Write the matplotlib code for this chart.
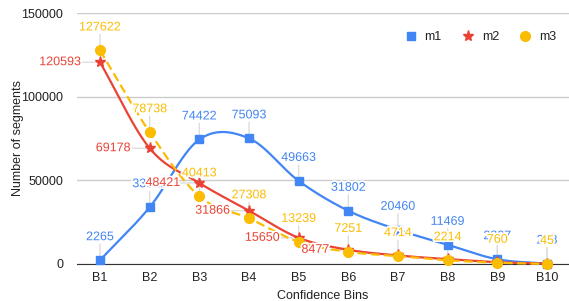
import numpy as np
import matplotlib.pyplot as plt
import matplotlib.patheffects as pe
from matplotlib.lines import Line2D

plt.rcParams['font.family'] = ['Liberation Sans', 'DejaVu Sans']

bins = ['B1', 'B2', 'B3', 'B4', 'B5', 'B6', 'B7', 'B8', 'B9', 'B10']
m1 = [2265, 33923, 74422, 75093, 49663, 31802, 20460, 11469, 2827, 248]
m2 = [120593, 69178, 48421, 31866, 15650, 8477, 5100, 2900, 1100, 200]
m3 = [127622, 78738, 40413, 27308, 13239, 7251, 4714, 2214, 760, 45]
m2_labelled = 6  # google hid the colliding red labels after B6

blue, red, yellow = '#4285F4', '#EA4335', '#FBBC04'


def smooth(y, n=30):
    # catmull-rom curve through the points, like curveType 'function'
    y = np.asarray(y, float)
    p = np.concatenate([[2 * y[0] - y[1]], y, [2 * y[-1] - y[-2]]])
    t = np.linspace(0, 1, n, endpoint=False)
    xs, ys = [], []
    for i in range(len(y) - 1):
        p0, p1, p2, p3 = p[i:i + 4]
        a, b = (p2 - p0) / 2, (p3 - p1) / 2
        h00 = 2 * t**3 - 3 * t**2 + 1
        h10 = t**3 - 2 * t**2 + t
        h01 = -2 * t**3 + 3 * t**2
        h11 = t**3 - t**2
        xs.append(i + t)
        ys.append(h00 * p1 + h10 * a + h01 * p2 + h11 * b)
    xs.append([len(y) - 1])
    ys.append([y[-1]])
    return np.concatenate(xs), np.concatenate(ys)


fig = plt.figure(figsize=(5.69, 3.01), dpi=100)
ax = fig.add_axes([77 / 569, 37 / 301, 492 / 569, 251 / 301])

x = np.arange(len(bins))
halo = [pe.withStroke(linewidth=2.5, foreground='white')]

series = [
    (m1, blue, 's', 5.5, '-', 'm1'),
    (m2, red, '*', 8, '-', 'm2'),
    (m3, yellow, 'o', 7, (0, (4, 2)), 'm3'),
]
for vals, col, mk, ms, ls, name in series:
    sx, sy = smooth(vals)
    ax.plot(sx, sy, color=col, lw=1.6, ls=ls, zorder=3, clip_on=False)
    ax.plot(x, vals, ls='none', marker=mk, ms=ms, color=col, zorder=4,
            clip_on=False)

# leader lines sit under the marks, labels on top
lead = dict(arrowstyle='-', color='#dddddd', lw=1, shrinkA=0, shrinkB=0)


def label(i, v, col, dx, dy, ha):
    if dy:
        ax.annotate('', (i, v), xytext=(0, dy - 7), textcoords='offset pixels',
                    arrowprops=lead, zorder=2)
    else:
        ax.annotate('', (i, v), xytext=(dx, 0), textcoords='offset pixels',
                    arrowprops=lead, zorder=2)
    ax.annotate(str(v), (i, v), xytext=(dx, dy), textcoords='offset pixels',
                ha=ha, va='center', color=col, fontsize=9, zorder=5,
                path_effects=halo)


for i, v in enumerate(m1):
    label(i, v, blue, 0, 23, 'center')
for i, v in enumerate(m2[:m2_labelled]):
    label(i, v, red, -19, 0, 'right')
for i, v in enumerate(m3):
    label(i, v, yellow, 0, 23, 'center')

ax.set_xlim(-23 / 49.67, 9 + 22 / 49.67)
ax.set_ylim(0, 150000)
ax.set_xticks(x)
ax.set_xticklabels(bins)
ax.set_yticks([0, 50000, 100000, 150000])
ax.tick_params(length=0, labelsize=9, labelcolor='#222222')
ax.tick_params(axis='y', pad=10)
ax.tick_params(axis='x', pad=6)
ax.grid(axis='y', color='#cccccc', lw=1)
ax.set_axisbelow(True)
for s in ['top', 'right', 'left']:
    ax.spines[s].set_visible(False)
ax.spines['bottom'].set_color('#333333')
ax.spines['bottom'].set_zorder(2.5)

ax.set_xlabel('Confidence Bins', fontsize=9, color='#222222', labelpad=4)
ax.set_ylabel('Number of segments', fontsize=9, color='#222222', labelpad=-2)

handles = [Line2D([], [], ls='none', marker=mk, ms=ms, color=col)
           for _, col, mk, ms, _, _ in series]
ax.legend(handles, ['m1', 'm2', 'm3'], ncol=3, frameon=False, fontsize=9,
          loc='center right', bbox_to_anchor=(0.997, 0.904),
          handlelength=1.0, handletextpad=0.6, columnspacing=1.6,
          labelcolor='#222222')

fig.savefig('out.png', dpi=100)
